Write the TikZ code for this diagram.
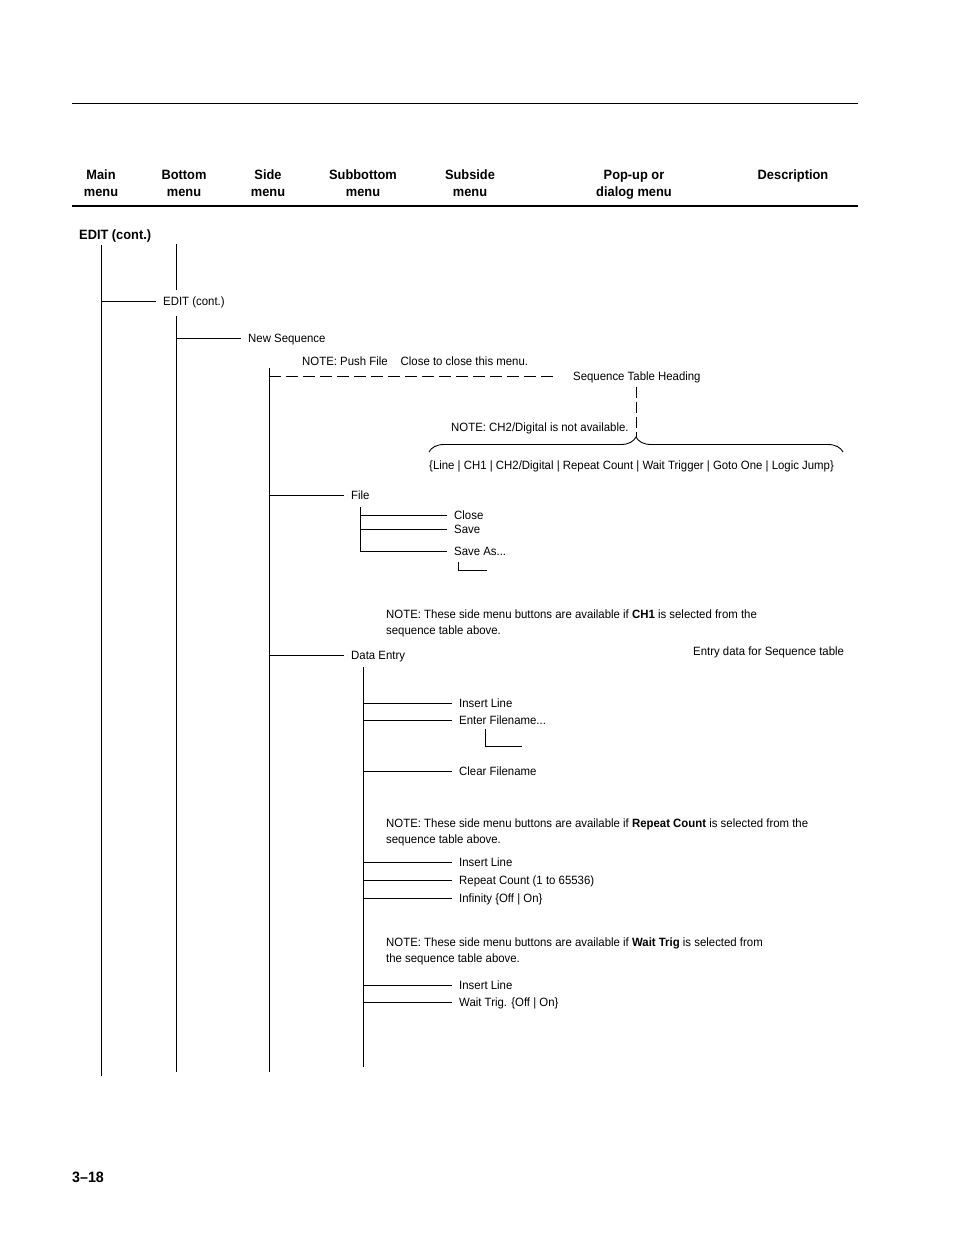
\documentclass[tikz,border=0pt]{standalone}
\usepackage{fontspec}
\setmainfont{Liberation Sans}[FakeStretch=0.95]
\usetikzlibrary{positioning, calc, decorations.pathreplacing}

\tikzset{
  tree/.style={line width=0.9pt},
  lbl/.style={anchor=west, inner xsep=7pt, inner ysep=0pt, text height=10.4pt, text depth=2.4pt},
  note/.style={anchor=north west, inner sep=0pt, align=left},
  head/.style={anchor=north, inner sep=0pt, align=center, font=\bfseries\fontsize{13.5}{17}\selectfont},
  bigbold/.style={anchor=west, inner sep=0pt, font=\bfseries\fontsize{13.5}{17}\selectfont},
  dashline/.style={line width=0.9pt, dash pattern=on 12pt off 5pt},
  vdashline/.style={line width=0.9pt, dash pattern=on 11pt off 4pt},
}

\begin{document}
\begin{tikzpicture}[x=1pt, y=-1pt, font=\fontsize{12}{16}\selectfont]

  \useasboundingbox (0,0) rectangle (954,1235);

  % --- Righe di pagina ---
  \draw[line width=1pt] (72,103) -- (858,103);
  \draw[line width=2pt] (72,206) -- (858,206);

  % --- Intestazioni ---
  \node[head] (hmain) at (101,170) {Main\\menu};
  \node[head] (hbot)  at (184,170) {Bottom\\menu};
  \node[head] (hside) at (268,170) {Side\\menu};
  \node[head] (hsubb) at (363,170) {Subbottom\\menu};
  \node[head] (hsubs) at (470,170) {Subside\\menu};
  \node[head] (hpop)  at (634,170) {Pop-up or\\dialog menu};
  \node[head] (hdesc) at (793,170) {Description};

  \node[bigbold] (editmain) at (79,236) {EDIT (cont.)};
  \node[bigbold, font=\bfseries\fontsize{15}{18}\selectfont] (pagenum) at (72,1177) {3–18};

  % --- Tronchi ---
  \coordinate (maintop) at (101,245);
  \coordinate (mainbot) at (101,1076);
  \coordinate (bottop)  at (176,244);
  \coordinate (botmid)  at (176,316);
  \coordinate (botbot)  at (176,1072);
  \coordinate (sidetop) at (269,368);
  \coordinate (sidebot) at (269,1072);
  \coordinate (filetop) at (360,507);
  \coordinate (datatop) at (363,667);
  \coordinate (databot) at (363,1067);

  \draw[tree] (maintop) -- (mainbot);
  \draw[tree] (bottop) -- (176,290);
  \draw[tree] (botmid) -- (botbot);
  \draw[tree] (sidetop) -- (sidebot);
  \draw[tree] (datatop) -- (databot);

  % --- EDIT (cont.) / New Sequence ---
  \node[lbl] (editc) at (156,301) {EDIT (cont.)};
  \draw[tree] (maintop |- editc.west) -- (editc.west);

  \node[lbl] (newseq) at (241,338) {New Sequence};
  \draw[tree] (botmid |- newseq.west) -- (newseq.west);

  \node[lbl] (push) at (295,361) {NOTE: Push File\hspace{13pt}Close to close this menu.};

  % --- Sequence table heading ---
  \node[lbl] (seqhead) at (566,376) {Sequence Table Heading};
  \draw[dashline, shorten >=8pt] (sidetop |- seqhead.west) -- (seqhead.west);

  \coordinate (braceL) at (429,452);
  \coordinate (braceR) at (843,452);
  \coordinate (bracetip) at (636,437);
  \draw[tree, decorate, decoration={brace, amplitude=15pt}] (braceL) -- (braceR);
  \draw[vdashline, shorten <=4pt] (bracetip |- seqhead.south) -- (bracetip);

  \node[lbl] (ch2note) at (444,427) {NOTE: CH2/Digital is not available.};
  \node[lbl] (seqlist) at (422,465) {\{Line | CH1 | CH2/Digital | Repeat Count | Wait Trigger | Goto One | Logic Jump\}};

  % --- File ---
  \node[lbl] (file) at (344,495) {File};
  \draw[tree] (sidetop |- file.west) -- (file.west);

  \node[lbl] (close)  at (447,515) {Close};
  \node[lbl] (save)   at (447,529) {Save};
  \node[lbl] (saveas) at (447,551) {Save As...};
  \draw[tree] (filetop) |- (saveas.west);
  \foreach \n in {close, save}
    \draw[tree] (filetop |- \n.west) -- (\n.west);
  \draw[tree] ($(saveas.south west)+(11,4)$) |- ++(29,9);

  % --- Data Entry ---
  \node[note] (noteA) at (386,609.5)
    {NOTE: These side menu buttons are available if \textbf{CH1} is selected from the\\sequence table above.};

  \node[lbl] (dataentry) at (344,655) {Data Entry};
  \draw[tree] (sidetop |- dataentry.west) -- (dataentry.west);
  \node[lbl] (entrydata) at (686,651) {Entry data for Sequence table};

  \node[lbl] (insA)  at (452,703) {Insert Line};
  \node[lbl] (enter) at (452,720) {Enter Filename...};
  \node[lbl] (clear) at (452,771) {Clear Filename};
  \draw[tree] ($(enter.south west)+(33,2)$) |- ++(37,18);

  \node[note] (noteB) at (386,818.5)
    {NOTE: These side menu buttons are available if \textbf{Repeat Count} is selected from the\\sequence table above.};

  \node[lbl] (insB) at (452,862) {Insert Line};
  \node[lbl] (rep)  at (452,880) {Repeat Count (1 to 65536)};
  \node[lbl] (inf)  at (452,898) {Infinity \{Off | On\}};

  \node[note] (noteC) at (386,937.5)
    {NOTE: These side menu buttons are available if \textbf{Wait Trig} is selected from\\the sequence table above.};

  \node[lbl] (insC) at (452,985) {Insert Line};
  \node[lbl] (wait) at (452,1002) {Wait Trig. \{Off | On\}};

  \foreach \n in {insA, enter, clear, insB, rep, inf, insC, wait}
    \draw[tree] (datatop |- \n.west) -- (\n.west);

\end{tikzpicture}
\end{document}
